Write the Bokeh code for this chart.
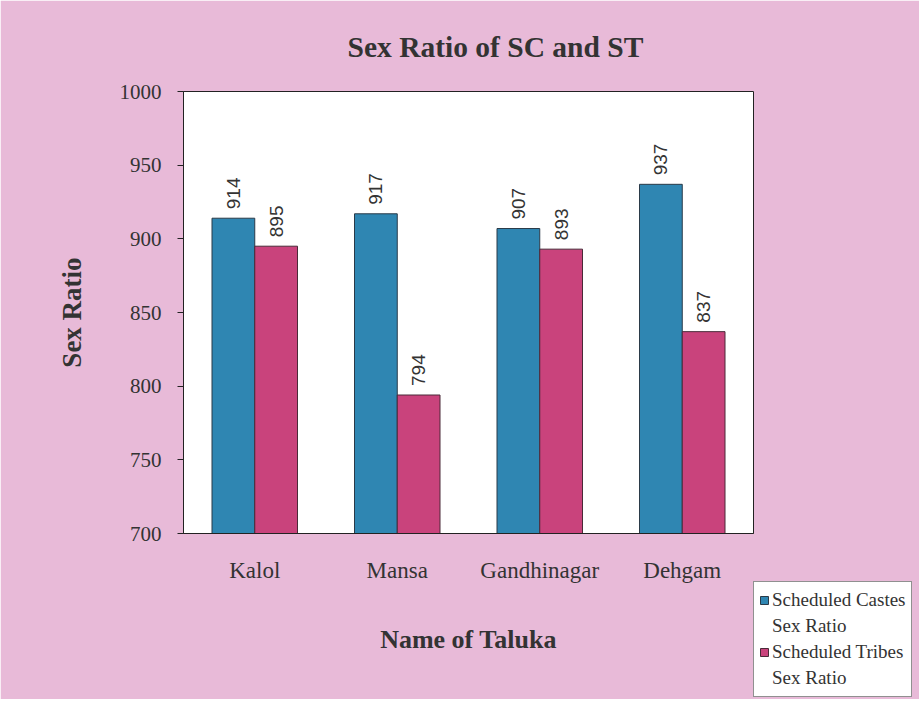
from bokeh.plotting import figure
from bokeh.models import ColumnDataSource, FactorRange, Range1d, Legend, LegendItem, FixedTicker
from bokeh.transform import dodge
from bokeh.core.properties import value
from bokeh.embed import file_html
from bokeh.resources import INLINE
import math

talukas = ["Kalol", "Mansa", "Gandhinagar", "Dehgam"]
sc_ratio = [914, 917, 907, 937]
st_ratio = [895, 794, 893, 837]
y_ticks = [700, 750, 800, 850, 900, 950, 1000]

PINK = "#e8bad8"
BLUE = "#2f86b2"
ROSE = "#c9437c"
SERIF = "Liberation Serif"

src = ColumnDataSource(dict(
    taluka=talukas, sc=sc_ratio, st=st_ratio,
    sc_lbl=[str(v) for v in sc_ratio], st_lbl=[str(v) for v in st_ratio],
))

p = figure(
    x_range=FactorRange(*talukas, range_padding=0),
    y_range=Range1d(700, 1000),
    frame_width=570, frame_height=442,
    output_backend="svg", toolbar_location=None,
    min_border_left=183, min_border_right=150,
    min_border_top=88, min_border_bottom=166,
)
p.border_fill_color = PINK
p.background_fill_color = "white"
p.outline_line_color = "#222"
p.outline_line_width = 1
p.xgrid.grid_line_color = None
p.ygrid.grid_line_color = None

# title
p.title.text = "Sex Ratio of SC and ST"
p.title.align = "left"
p.title.offset = 164
p.title.standoff = 57
p.title.text_line_height = 1.0
p.title.text_font = SERIF
p.title.text_font_size = "29.5px"
p.title.text_font_style = "bold"
p.title.text_color = "#333"

sc_r = p.vbar(x=dodge("taluka", -0.15, range=p.x_range), top="sc", bottom=700, width=0.3,
              source=src, fill_color=BLUE, line_color="#2a3a48", line_width=1)
st_r = p.vbar(x=dodge("taluka", 0.15, range=p.x_range), top="st", bottom=700, width=0.3,
              source=src, fill_color=ROSE, line_color="#4a2a38", line_width=1)
# invisible carrier for the second text line of each legend entry
blank_r = p.vbar(x=dodge("taluka", 0.0, range=p.x_range), top="st", bottom=700, width=0.0,
                 source=src, fill_alpha=0, line_alpha=0)

for col, lbl, off in (("sc", "sc_lbl", -0.15), ("st", "st_lbl", 0.15)):
    p.text(x=dodge("taluka", off, range=p.x_range), y=col, text=lbl, source=src,
           angle=math.pi / 2, text_align="left", text_baseline="middle",
           x_offset=0, y_offset=-9,
           text_font=value("Liberation Sans"), text_font_size="19px", text_color="#333")

# axes
p.yaxis.ticker = FixedTicker(ticks=y_ticks)
p.yaxis.major_tick_out = 6
p.yaxis.major_tick_in = 0
p.yaxis.minor_tick_line_color = None
p.yaxis.axis_line_color = "#222"
p.yaxis.major_tick_line_color = "#222"
p.yaxis.major_label_standoff = 16
p.yaxis.major_label_text_font = SERIF
p.yaxis.major_label_text_font_size = "21px"
p.yaxis.major_label_text_color = "#333"
p.yaxis.axis_label = "Sex Ratio"
p.yaxis.axis_label_text_font = SERIF
p.yaxis.axis_label_text_font_size = "27px"
p.yaxis.axis_label_text_font_style = "bold"
p.yaxis.axis_label_text_color = "#333"
p.yaxis.axis_label_standoff = 30

p.xaxis.major_tick_line_color = None
p.xaxis.axis_line_color = "#222"
p.xaxis.major_label_standoff = 18
p.xaxis.major_label_text_font = SERIF
p.xaxis.major_label_text_font_size = "23px"
p.xaxis.major_label_text_color = "#333"
p.xaxis.axis_label = "Name of Taluka"
p.xaxis.axis_label_text_font = SERIF
p.xaxis.axis_label_text_font_size = "26px"
p.xaxis.axis_label_text_font_style = "bold"
p.xaxis.axis_label_text_color = "#333"
p.xaxis.axis_label_standoff = 39

legend = Legend(items=[
    LegendItem(label="Scheduled Castes", renderers=[sc_r]),
    LegendItem(label="Sex Ratio", renderers=[blank_r]),
    LegendItem(label="Scheduled Tribes", renderers=[st_r]),
    LegendItem(label="Sex Ratio", renderers=[blank_r]),
], location=(0, -164))
legend.label_text_font = SERIF
legend.label_text_font_size = "19px"
legend.label_text_color = "#333"
legend.label_height = 26
legend.glyph_width = 10
legend.glyph_height = 10
legend.label_standoff = 3
legend.padding = 5
legend.spacing = 0
legend.margin = 0
legend.border_line_color = "#222"
legend.border_line_width = 1
legend.background_fill_color = "white"
legend.background_fill_alpha = 1
p.add_layout(legend, "right")

open("out.html", "w").write(file_html(p, INLINE))
